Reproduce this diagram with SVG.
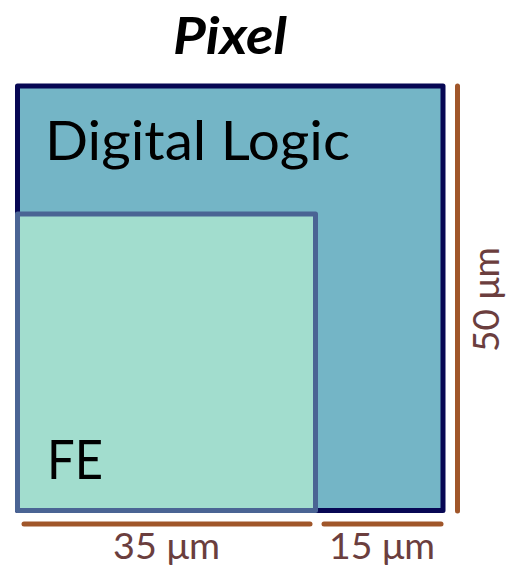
<svg xmlns="http://www.w3.org/2000/svg" width="506" height="574" viewBox="0 0 506 574">
  <style>
    .lbl { font-family: Lato, "Liberation Sans", sans-serif; font-weight: 400; fill: #000; }
    .dim { stroke: #a0562a; stroke-width: 5; stroke-linecap: round; fill: none; }
    .dimtxt { font-family: Lato, "Liberation Sans", sans-serif; font-weight: 400; font-size: 36px; fill: #6b3e3e; }
  </style>
  <rect width="506" height="574" fill="#ffffff"/>
  <text x="230" y="54" text-anchor="middle" font-family="Lato, 'Liberation Sans', sans-serif" font-size="52" font-weight="bold" font-style="italic" fill="#000" textLength="114" lengthAdjust="spacingAndGlyphs">Pixel</text>

  <g id="digital-logic">
    <rect x="17.5" y="86" width="425.5" height="424.5" fill="#74b5c6" stroke="#070754" stroke-width="5" stroke-linejoin="round"/>
    <text class="lbl" x="45" y="160" font-size="54" textLength="305" lengthAdjust="spacingAndGlyphs">Digital Logic</text>
  </g>

  <g id="fe">
    <rect x="17.5" y="214" width="298" height="296.5" fill="#a2ddce" stroke="#4a6494" stroke-width="5" stroke-linejoin="round"/>
    <text class="lbl" x="47" y="479" font-size="54" textLength="56" lengthAdjust="spacingAndGlyphs">FE</text>
  </g>

  <g id="dimensions">
    <line class="dim" x1="24" y1="524" x2="310" y2="524"/>
    <line class="dim" x1="324" y1="524" x2="441" y2="524"/>
    <line class="dim" x1="457.5" y1="86" x2="457.5" y2="511"/>
    <text class="dimtxt" x="113" y="559" textLength="107" lengthAdjust="spacingAndGlyphs">35 μm</text>
    <text class="dimtxt" x="329" y="559" textLength="106" lengthAdjust="spacingAndGlyphs">15 μm</text>
    <text class="dimtxt" transform="translate(499 352) rotate(-90)" textLength="105" lengthAdjust="spacingAndGlyphs">50 μm</text>
  </g>
</svg>
